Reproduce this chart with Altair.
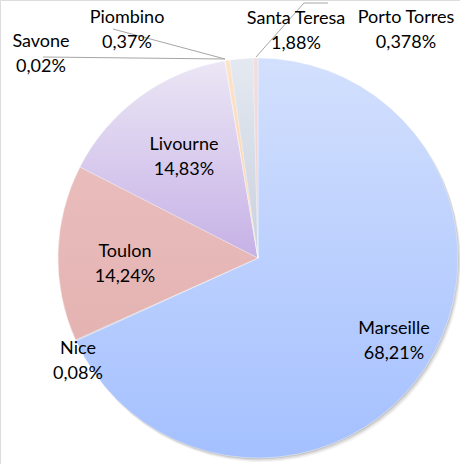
import altair as alt
import pandas as pd

ports = ["Marseille", "Nice", "Toulon", "Livourne", "Savone", "Piombino", "Santa Teresa", "Porto Torres"]
shares = [68.21, 0.08, 14.24, 14.83, 0.02, 0.37, 1.88, 0.378]
labels_pct = ["68,21%", "0,08%", "14,24%", "14,83%", "0,02%", "0,37%", "1,88%", "0,378%"]

# fills (top colour, bottom colour) per slice
fills = {
    "Marseille": ("#d3e0fd", "#a4c0ff"),
    "Nice": ("#c9d6f0", "#b7c6e6"),
    "Toulon": ("#e9bdbc", "#e4b3b2"),
    "Livourne": ("#ebe6f5", "#c6b1e6"),
    "Savone": ("#d9d9d9", "#c9c9c9"),
    "Piombino": ("#fde3c8", "#fbcfa6"),
    "Santa Teresa": ("#e4e9f1", "#c9d1de"),
    "Porto Torres": ("#f3dede", "#ebcfcf"),
}

# label anchor positions (pixels)
label_x = [394, 78, 125, 184, 41, 127, 296, 406]
label_y = [329, 349, 252, 145, 42, 18, 19, 18]

# leader lines
line_id = ["sav", "sav", "pio", "pio", "st", "st", "st"]
line_k = [0, 1, 0, 1, 0, 1, 2]
line_x = [43, 225, 113, 225, 256, 304, 328]
line_y = [57, 59, 29, 59, 57, 3, 3]

CX, CY, R = 258, 258, 200

df = pd.DataFrame({"port": ports, "value": shares, "order": list(range(len(ports)))})
total = sum(shares)

base = alt.Chart(df).transform_window(
    end="sum(value)", sort=[alt.SortField("order")]
).transform_calculate(start="datum.end - datum.value")

theta_scale = alt.Scale(domain=[0, total], range=[0, 6.283185307])

layers = []
# soft shadow
for dx, dy, op in [(3, 4, 0.10), (2, 2.5, 0.18), (1, 1.2, 0.25)]:
    layers.append(
        base.mark_arc(radius=R, fill="#7f7f7f", opacity=op).encode(
            theta=alt.Theta("start:Q", scale=theta_scale, stack=None),
            theta2="end:Q",
            x=alt.value(CX + dx),
            y=alt.value(CY + dy),
        )
    )

for p in ports:
    top, bot = fills[p]
    grad = alt.LinearGradient(
        gradient="linear",
        x1=0, y1=0, x2=0, y2=1,
        stops=[alt.GradientStop(color=top, offset=0), alt.GradientStop(color=bot, offset=1)],
    )
    layers.append(
        base.transform_filter(alt.datum.port == p)
        .mark_arc(radius=R, fill=grad, stroke="#ffffff", strokeWidth=0.6, strokeOpacity=0.6)
        .encode(
            theta=alt.Theta("start:Q", scale=theta_scale, stack=None),
            theta2="end:Q",
            x=alt.value(CX),
            y=alt.value(CY),
        )
    )

lines_df = pd.DataFrame({"id": line_id, "k": line_k, "x": line_x, "y": line_y})
lines = alt.Chart(lines_df).mark_line(color="#a6a6a6", strokeWidth=1).encode(
    x=alt.X("x:Q", scale=None),
    y=alt.Y("y:Q", scale=None),
    detail="id:N",
    order="k:Q",
)

lab_rows = []
for n, pc, x, y in zip(ports, labels_pct, label_x, label_y):
    lab_rows.append({"t": n, "x": x, "y": y})
    lab_rows.append({"t": pc, "x": x, "y": y + 25})
lab_df = pd.DataFrame(lab_rows)
texts = alt.Chart(lab_df).mark_text(
    font="Lato", fontSize=18, color="#000000", align="center", baseline="middle"
).encode(
    x=alt.X("x:Q", scale=None),
    y=alt.Y("y:Q", scale=None),
    text="t:N",
)

chart = alt.layer(*layers, lines, texts).properties(
    width=460, height=464, padding=0, autosize=alt.AutoSizeParams(type="none")
).configure_view(stroke=None).configure(background="#ffffff")

chart.save("out.html", embed_options={"renderer": "svg", "actions": False})
